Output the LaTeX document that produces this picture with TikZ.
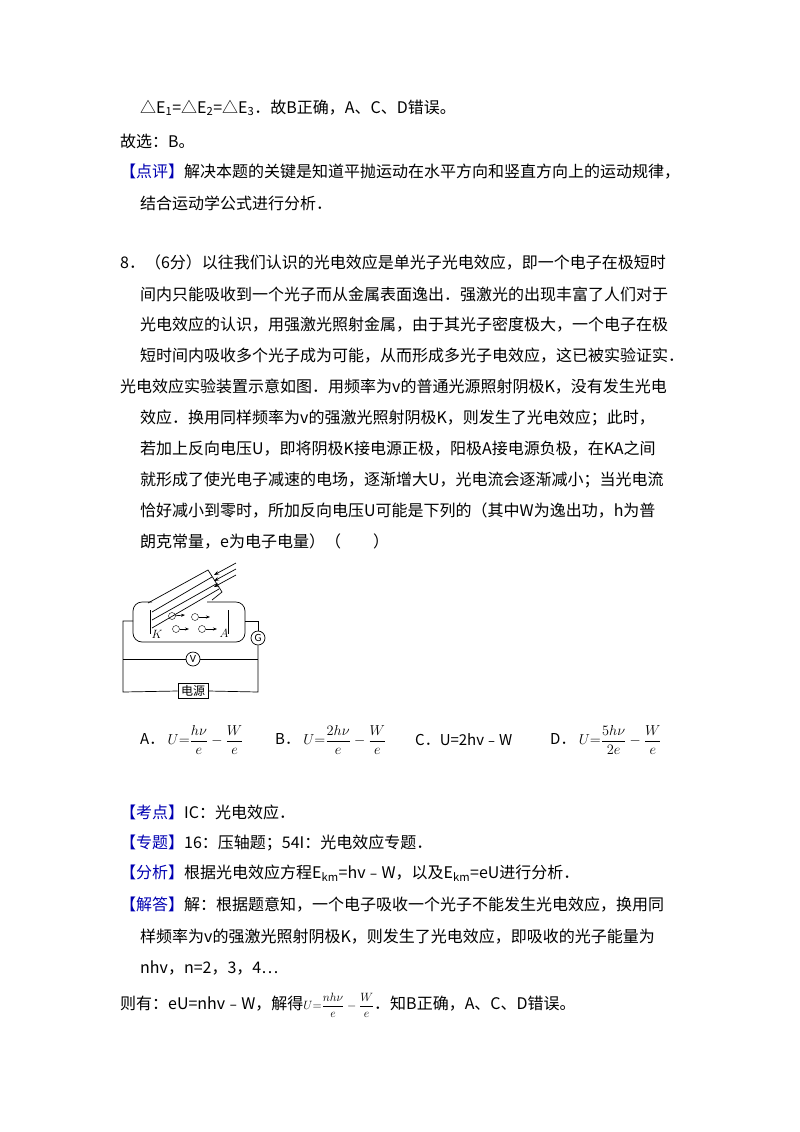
\documentclass[tikz,border=0pt]{standalone}
\usepackage{amsmath}
\usepackage{fontspec}
\setmainfont{Carlito}
\newfontfamily\cjk{Noto Sans CJK SC}
\usetikzlibrary{arrows.meta}
\begin{document}
\begin{tikzpicture}[x=1pt,y=-1pt,
 tl/.style={anchor=west,inner sep=0pt,font=\fontsize{16}{18}\selectfont\cjk},
 w/.style={line width=0.7pt},
 el/.style={circle,draw,inner sep=0pt,minimum size=7pt},
 ff/.style={anchor=west,inner sep=0pt,font=\fontsize{15}{18}\selectfont\cjk}]
\useasboundingbox[fill=white] (0,0) rectangle (800,1132);
\node[tl] (l1) at (140,108) {△E\textsubscript{1}=△E\textsubscript{2}=△E\textsubscript{3}．故B正确，A、C、D错误。};
\node[tl] (l2) at (120,141) {故选：B。};
\node[tl] (l3) at (120,172) {\textcolor{blue!70!black}{【点评】}解决本题的关键是知道平抛运动在水平方向和竖直方向上的运动规律，};
\node[tl] (l4) at (140,203) {结合运动学公式进行分析．};
\node[tl] (q1) at (120,263) {8．（6分）以往我们认识的光电效应是单光子光电效应，即一个电子在极短时};
\node[tl] (q2) at (140,294) {间内只能吸收到一个光子而从金属表面逸出．强激光的出现丰富了人们对于};
\node[tl] (q3) at (140,325) {光电效应的认识，用强激光照射金属，由于其光子密度极大，一个电子在极};
\node[tl] (q4) at (140,356) {短时间内吸收多个光子成为可能，从而形成多光子电效应，这已被实验证实．};
\node[tl] (q5) at (120,387) {光电效应实验装置示意如图．用频率为v的普通光源照射阴极K，没有发生光电};
\node[tl] (q6) at (140,418) {效应．换用同样频率为v的强激光照射阴极K，则发生了光电效应；此时，};
\node[tl] (q7) at (140,449) {若加上反向电压U，即将阴极K接电源正极，阳极A接电源负极，在KA之间};
\node[tl] (q8) at (140,480) {就形成了使光电子减速的电场，逐渐增大U，光电流会逐渐减小；当光电流};
\node[tl] (q9) at (140,511) {恰好减小到零时，所加反向电压U可能是下列的（其中W为逸出功，h为普};
\node[tl] (q10) at (140,542) {朗克常量，e为电子电量）（　　）};
% figure
\draw[w,rounded corners=9pt] (152,602) -- (133,602) -- (133,642) -- (245,642) -- (245,602) -- (207,602);
\draw[w] (150,610) -- (150,634);
\draw[w] (228,610) -- (228,634);
\draw[w] (148,603) -- (208,570) -- (222,592) -- (212,600);
\draw[w] (152,612) -- (212,577);
\draw[w] (152,620) -- (216,584);
\draw[w] (152,628) -- (219,589);
\foreach \d in {0,6,12}{
 \coordinate (ra\d) at (236,563+\d);
 \coordinate (rb\d) at (214,575+\d);
 \draw[w,-{Stealth[length=5pt]}] (ra\d) -- (rb\d);}
\node[el] (e1) at (172,616) {}; \node[el] (e2) at (195,617) {};
\node[el] (e3) at (176,629) {}; \node[el] (e4) at (202,629) {};
\coordinate (f1) at (185,615); \coordinate (f2) at (210,617);
\coordinate (f3) at (189,629); \coordinate (f4) at (217,629);
\draw[w,-{Stealth[length=4pt]}] (e1) -- (f1);
\draw[w,-{Stealth[length=4pt]}] (e2) -- (f2);
\draw[w,-{Stealth[length=4pt]}] (e3) -- (f3);
\draw[w,-{Stealth[length=4pt]}] (e4) -- (f4);
\node[inner sep=0pt,font=\fontsize{12}{12}\selectfont\itshape] (K) at (157,634) {$K$};
\node[inner sep=0pt,font=\fontsize{12}{12}\selectfont\itshape] (A) at (224,633) {$A$};
\node[circle,draw,w,inner sep=0pt,minimum size=14pt,font=\fontsize{11}{11}\selectfont\rmfamily] (G) at (258,638) {G};
\node[circle,draw,w,inner sep=0pt,minimum size=14pt,font=\fontsize{11}{11}\selectfont] (V) at (193,659) {V};
\node[draw,w,inner sep=2pt,minimum width=30pt,font=\fontsize{12}{12}\selectfont\cjk,fill=white] (P) at (193,691) {电源};
\coordinate (c1) at (133,621); \coordinate (c2) at (245,621);
\draw[w] (c1) -- (123,621) -- (123,692) -- (P.west);
\draw[w] (P.east) -- (258,692) -- (G.south);
\draw[w] (G.north) -- (258,621) -- (c2);
\draw[w] (123,659) -- (V.west); \draw[w] (V.east) -- (258,659);
% options
\node[ff] (oA) at (140,740) {A．\ $U{=}\dfrac{h\nu}{e}-\dfrac{W}{e}$};
\node[ff] (oB) at (275,740) {B．\ $U{=}\dfrac{2h\nu}{e}-\dfrac{W}{e}$};
\node[ff] (oC) at (415,740) {C．U=2hv﹣W};
\node[ff] (oD) at (550,740) {D．\ $U{=}\dfrac{5h\nu}{2e}-\dfrac{W}{e}$};
\node[tl] (a1) at (120,812) {\textcolor{blue!70!black}{【考点】}IC：光电效应．};
\node[tl] (a2) at (120,843) {\textcolor{blue!70!black}{【专题】}16：压轴题；54I：光电效应专题．};
\node[tl] (a3) at (120,873) {\textcolor{blue!70!black}{【分析】}根据光电效应方程E\textsubscript{km}=hv﹣W，以及E\textsubscript{km}=eU进行分析．};
\node[tl] (a4) at (120,905) {\textcolor{blue!70!black}{【解答】}解：根据题意知，一个电子吸收一个光子不能发生光电效应，换用同};
\node[tl] (a5) at (140,937) {样频率为v的强激光照射阴极K，则发生了光电效应，即吸收的光子能量为};
\node[tl] (a6) at (140,968) {nhv，n=2，3，4…};
\node[tl] (a7) at (120,1005) {则有：eU=nhv﹣W，解得{\fontsize{13}{14}\selectfont$U{=}\dfrac{nh\nu}{e}-\dfrac{W}{e}$}．知B正确，A、C、D错误。};
\end{tikzpicture}
\end{document}
